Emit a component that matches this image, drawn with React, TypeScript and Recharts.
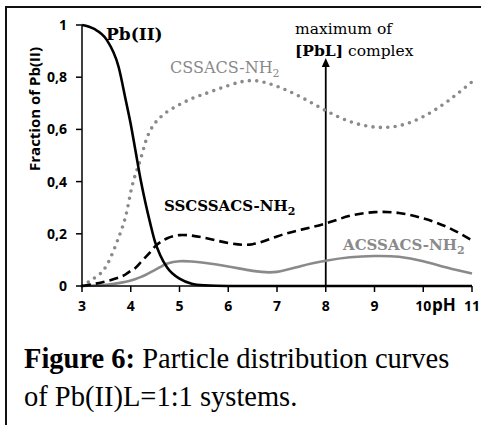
import React from 'react';
import { LineChart, Line, XAxis, YAxis, ReferenceLine } from 'recharts';

// pH grid and species fractions
const phValues = [3, 3.25, 3.5, 3.75, 3.9, 4.0, 4.1, 4.2, 4.3, 4.4, 4.5, 4.6, 4.75, 5, 5.25, 5.5, 6, 6.5, 7, 7.5, 8, 8.5, 9, 9.5, 10, 10.5, 11];
const pbFree = [1.0, 0.985, 0.945, 0.84, 0.71, 0.62, 0.515, 0.41, 0.32, 0.24, 0.168, 0.12, 0.07, 0.028, 0.009, 0.003, 0, 0, 0, 0, 0, 0, 0, 0, 0, 0, 0];
const cssacs = [0, 0.03, 0.077, 0.185, 0.27, 0.36, 0.43, 0.485, 0.55, 0.596, 0.625, 0.645, 0.668, 0.695, 0.718, 0.735, 0.768, 0.787, 0.765, 0.723, 0.672, 0.63, 0.609, 0.614, 0.649, 0.708, 0.782];
const sscssacs = [0, 0.008, 0.018, 0.032, 0.045, 0.058, 0.07, 0.09, 0.11, 0.13, 0.152, 0.167, 0.183, 0.195, 0.193, 0.185, 0.165, 0.16, 0.19, 0.216, 0.24, 0.269, 0.283, 0.28, 0.259, 0.225, 0.175];
const acssacs = [0, 0.002, 0.005, 0.011, 0.016, 0.021, 0.027, 0.034, 0.042, 0.052, 0.062, 0.072, 0.086, 0.095, 0.094, 0.089, 0.075, 0.058, 0.054, 0.077, 0.097, 0.11, 0.115, 0.112, 0.095, 0.07, 0.048];

const xTicks = [3, 4, 5, 6, 7, 8, 9, 10, 11];
const yTicks = [0, 0.2, 0.4, 0.6, 0.8, 1];

const arrowPh = 8;
const arrowTop = 0.874;

const data = phValues.map((ph, i) => ({
  ph,
  pb: pbFree[i],
  cssacs: cssacs[i],
  sscssacs: sscssacs[i],
  acssacs: acssacs[i],
}));

const grey = '#8a8a8a';
const sans = '"Open Sans", sans-serif';
const serif = '"DejaVu Serif", serif';

const fmtY = (v: number) => String(v).replace('.', ',');

const Arrow = (props: any) => {
  const { x1, y1, x2, y2 } = props;
  const top = Math.min(y1, y2);
  const bottom = Math.max(y1, y2);
  const x = x1;
  return (
    <g>
      <line x1={x} y1={bottom} x2={x} y2={top + 6} stroke="#000" strokeWidth={1.8} />
      <polygon points={`${x},${top} ${x - 4},${top + 9} ${x + 4},${top + 9}`} fill="#000" />
    </g>
  );
};

const App = () => {
  return (
    <div style={{ position: 'absolute', left: 0, top: 0, width: 481, height: 425, background: '#fff' }}>
      <div
        style={{
          position: 'absolute',
          left: 5,
          top: 6,
          width: 481,
          height: 425,
          borderTop: '2px solid #111',
          borderLeft: '2px solid #111',
        }}
      />
      <div style={{ position: 'absolute', left: 0, top: 0 }}>
        <LineChart width={481} height={425} data={data} margin={{ top: 25, right: 9, left: 22, bottom: 109 }}>
          <XAxis
            dataKey="ph"
            type="number"
            domain={[3, 11]}
            ticks={xTicks}
            height={30}
            axisLine={{ stroke: '#000', strokeWidth: 1.5 }}
            tickLine={{ stroke: '#000', strokeWidth: 1.5 }}
            tickSize={6}
            tickMargin={9}
            tick={{ fill: '#000', fontFamily: sans, fontWeight: 700, fontSize: 14 }}
          />
          <YAxis
            type="number"
            domain={[0, 1]}
            ticks={yTicks}
            width={60}
            tickFormatter={fmtY}
            axisLine={{ stroke: '#000', strokeWidth: 1.5 }}
            tickLine={{ stroke: '#000', strokeWidth: 1.5 }}
            tickSize={6}
            tickMargin={9}
            tick={{ fill: '#000', fontFamily: sans, fontWeight: 700, fontSize: 14 }}
          />
          <ReferenceLine
            segment={[{ x: arrowPh, y: 0 }, { x: arrowPh, y: arrowTop }]}
            shape={Arrow}
            ifOverflow="visible"
          />
          <Line
            type="natural"
            dataKey="acssacs"
            stroke={grey}
            strokeWidth={2.6}
            dot={false}
            isAnimationActive={false}
          />
          <Line
            type="natural"
            dataKey="cssacs"
            stroke={grey}
            strokeWidth={3.6}
            strokeDasharray="0 7.4"
            strokeLinecap="round"
            dot={false}
            isAnimationActive={false}
          />
          <Line
            type="natural"
            dataKey="sscssacs"
            stroke="#000"
            strokeWidth={2.6}
            strokeDasharray="9 5"
            dot={false}
            isAnimationActive={false}
          />
          <Line
            type="monotone"
            dataKey="pb"
            stroke="#000"
            strokeWidth={2.6}
            dot={false}
            isAnimationActive={false}
          />
        </LineChart>
      </div>
      <svg width={481} height={425} style={{ position: 'absolute', left: 0, top: 0, pointerEvents: 'none' }}>
        <text x={40} y={109} transform="rotate(-90, 40, 109)" textAnchor="middle" fontFamily={sans} fontWeight={700} fontSize={15} fill="#000">
          Fraction of Pb(II)
        </text>
        <text x={432} y={311} fontFamily={sans} fontWeight={700} fontSize={17} fill="#000">pH</text>
        <text x={106} y={40} fontFamily={serif} fontWeight={700} fontSize={17} fill="#000">Pb(II)</text>
        <text x={170} y={73} fontFamily={serif} fontSize={16} fill={grey}>
          CSSACS-NH<tspan fontSize={11} dy={4}>2</tspan>
        </text>
        <text x={164} y={211} fontFamily={serif} fontWeight={700} fontSize={15} fill="#000">
          SSCSSACS-NH<tspan fontSize={11} dy={4}>2</tspan>
        </text>
        <text x={343} y={250} fontFamily={serif} fontWeight={700} fontSize={15} fill={grey}>
          ACSSACS-NH<tspan fontSize={11} dy={4}>2</tspan>
        </text>
        <text x={295} y={34} fontFamily={serif} fontSize={15.5} fill="#000">maximum of</text>
        <text x={295} y={56} fontFamily={serif} fontSize={15.5} fill="#000">
          <tspan fontWeight={700}>[PbL]</tspan> complex
        </text>
        <text x={24} y={368} fontFamily='"Liberation Serif", serif' fontSize={28.5} fill="#000">
          <tspan fontWeight={700}>Figure 6:</tspan> Particle distribution curves
        </text>
        <text x={24} y={406} fontFamily='"Liberation Serif", serif' fontSize={28.5} fill="#000">
          of Pb(II)L=1:1 systems.
        </text>
      </svg>
    </div>
  );
};

export default App;
